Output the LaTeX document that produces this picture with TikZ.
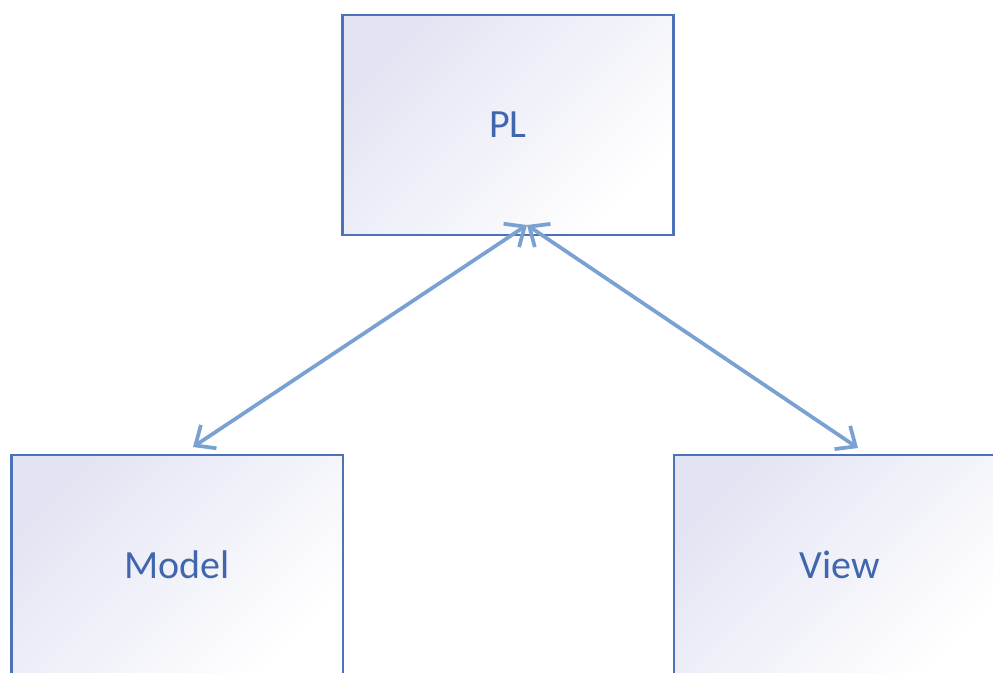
\documentclass[tikz,border=0pt]{standalone}
\usepackage{fontspec}
\setmainfont{Carlito}
\usetikzlibrary{arrows.meta}
\definecolor{boxedge}{HTML}{4E72B8}
\definecolor{boxtext}{HTML}{4166AE}
\definecolor{boxtint}{HTML}{E2E4F3}
\definecolor{boxmid}{HTML}{FCFCFE}
\definecolor{linkblue}{HTML}{7BA1D2}
\tikzset{
  layer/.style={draw=boxedge, line width=2pt, shading=axis,
    top color=boxtint, middle color=boxmid, bottom color=white, shading angle=45,
    minimum width=248.6pt, minimum height=165pt, inner sep=0pt,
    text=boxtext, font=\fontsize{30}{36}\selectfont},
  barb/.tip={Straight Barb[length=12pt, width=21pt, line width=2.8pt]},
  link/.style={draw=linkblue, line width=2.8pt, line cap=round, line join=round,
    barb-barb}
}
\begin{document}
\begin{tikzpicture}[x=0.75pt, y=-0.75pt]
  \useasboundingbox (0,0) rectangle (993,672);
  \clip (0,0) rectangle (993,672);
  \fill[white] (0,0) rectangle (993,672);
  % the three layers
  \node[layer] (pl) at (508,125) {PL};
  \node[layer] (model) at (177.2,565) {Model};
  \node[layer] (view) at (839.7,565) {View};
  % ends of the two links
  \coordinate (apex) at (527,225);
  \coordinate (mtip) at (193,447);
  \coordinate (vtip) at (858,448);
  \draw[link] (mtip) -- (apex);
  \draw[link] (apex) -- (vtip);
\end{tikzpicture}
\end{document}
